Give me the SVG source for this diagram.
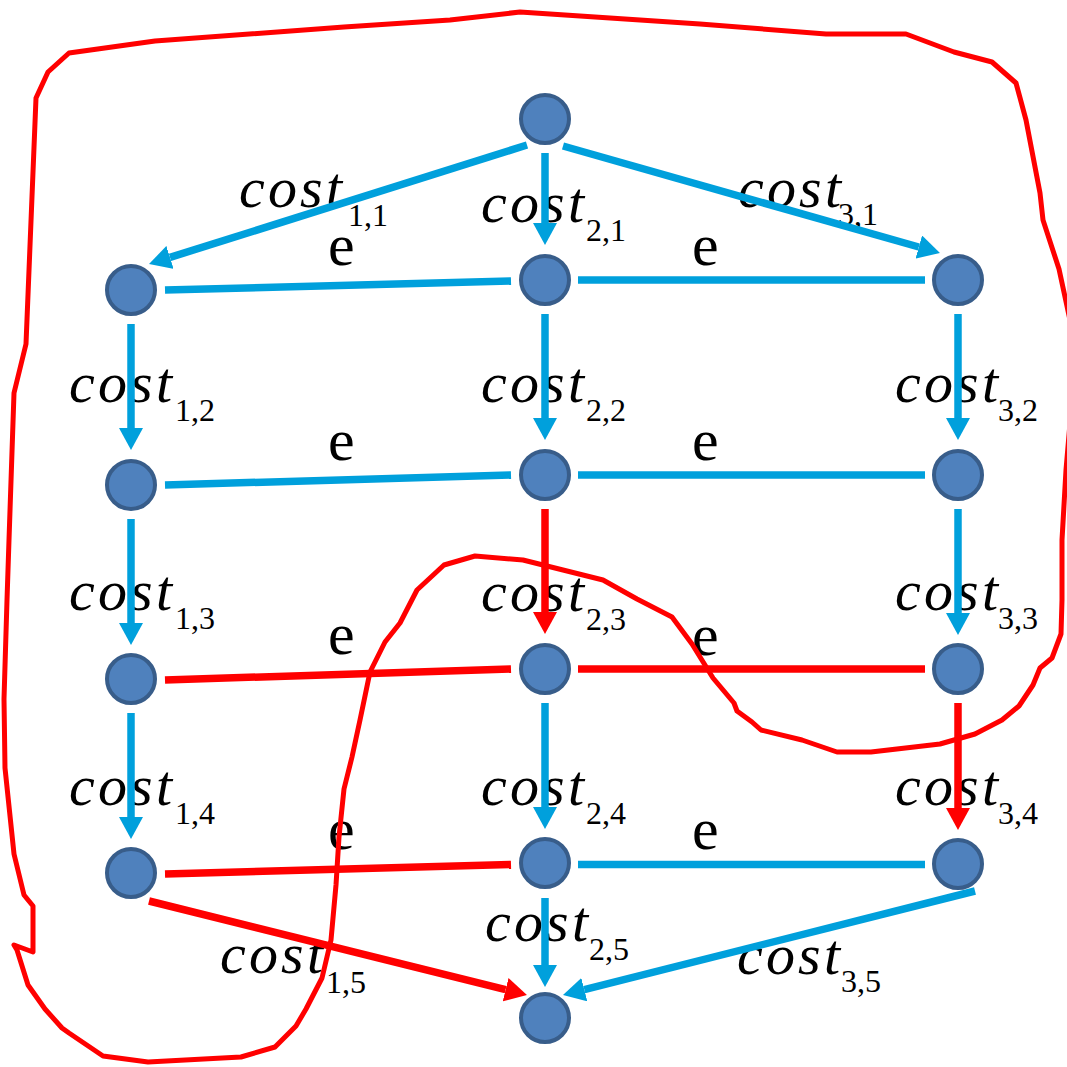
<svg xmlns="http://www.w3.org/2000/svg" width="1067" height="1067" viewBox="0 0 1067 1067">
<style>
.n{fill:#4F81BD;stroke:#385D8A;stroke-width:4}
.b{stroke:#00A0DC;stroke-width:7.5;fill:none}
.r{stroke:#FF0000;stroke-width:7.5;fill:none}
.ab{marker-end:url(#ab)}
.ar{marker-end:url(#ar)}
.hand{stroke:#FF0000;stroke-width:5;fill:none;stroke-linejoin:round;stroke-linecap:round}
</style>
<defs>
<marker id="ab" viewBox="0 -12 22 24" refX="0" refY="0" markerWidth="22" markerHeight="24" markerUnits="userSpaceOnUse" orient="auto"><path d="M0,-12 L22,0 L0,12 z" fill="#00A0DC"/></marker>
<marker id="ar" viewBox="0 -12 22 24" refX="0" refY="0" markerWidth="22" markerHeight="24" markerUnits="userSpaceOnUse" orient="auto"><path d="M0,-12 L22,0 L0,12 z" fill="#FF0000"/></marker>
</defs>
<rect width="1067" height="1067" fill="#FFFFFF"/>

<g id="labels" font-family="Liberation Serif" fill="#000">
<g id="cost-labels" font-style="italic" font-size="58">
<text x="239" y="207" textLength="103" lengthAdjust="spacing">cost</text>
<text x="481" y="222" textLength="103" lengthAdjust="spacing">cost</text>
<text x="738" y="207" textLength="103" lengthAdjust="spacing">cost</text>
<text x="69" y="402" textLength="103" lengthAdjust="spacing">cost</text>
<text x="481" y="402" textLength="103" lengthAdjust="spacing">cost</text>
<text x="895" y="402" textLength="103" lengthAdjust="spacing">cost</text>
<text x="69" y="610" textLength="103" lengthAdjust="spacing">cost</text>
<text x="481" y="611" textLength="103" lengthAdjust="spacing">cost</text>
<text x="895" y="610" textLength="103" lengthAdjust="spacing">cost</text>
<text x="69" y="805" textLength="103" lengthAdjust="spacing">cost</text>
<text x="481" y="805" textLength="103" lengthAdjust="spacing">cost</text>
<text x="895" y="805" textLength="103" lengthAdjust="spacing">cost</text>
<text x="220" y="973" textLength="103" lengthAdjust="spacing">cost</text>
<text x="485" y="941" textLength="103" lengthAdjust="spacing">cost</text>
<text x="737" y="974" textLength="103" lengthAdjust="spacing">cost</text>
</g>
<g id="subscripts" font-size="32">
<text x="348" y="226">1,1</text>
<text x="586" y="241">2,1</text>
<text x="838" y="225">3,1</text>
<text x="175" y="421">1,2</text>
<text x="586" y="421">2,2</text>
<text x="998" y="421">3,2</text>
<text x="175" y="629">1,3</text>
<text x="586" y="630">2,3</text>
<text x="998" y="629">3,3</text>
<text x="175" y="824">1,4</text>
<text x="586" y="824">2,4</text>
<text x="998" y="824">3,4</text>
<text x="326" y="993">1,5</text>
<text x="589" y="960">2,5</text>
<text x="841" y="992">3,5</text>
</g>
<g id="e-labels" font-size="60">
<text x="328" y="265">e</text><text x="692" y="265">e</text>
<text x="328" y="460">e</text><text x="692" y="460">e</text>
<text x="328" y="654">e</text><text x="692" y="655">e</text>
<text x="328" y="849">e</text><text x="692" y="849">e</text>
</g>
</g>

<g id="connectors">
<line class="b ab" x1="527" y1="145" x2="170" y2="257.4"/>
<line class="b ab" x1="545" y1="153" x2="545" y2="223"/>
<line class="b ab" x1="563" y1="146" x2="918.8" y2="247"/>
<line class="b" x1="165" y1="290" x2="511" y2="281"/>
<line class="b" x1="578" y1="280" x2="925" y2="280"/>
<line class="b ab" x1="131" y1="324" x2="131" y2="428"/>
<line class="b ab" x1="545" y1="314" x2="545" y2="418"/>
<line class="b ab" x1="958" y1="314" x2="958" y2="418"/>
<line class="b" x1="165" y1="485" x2="511" y2="475"/>
<line class="b" x1="578" y1="475" x2="925" y2="475"/>
<line class="b ab" x1="131" y1="519" x2="131" y2="623"/>
<line class="r ar" x1="545" y1="509" x2="545" y2="612"/>
<line class="b ab" x1="958" y1="509" x2="958" y2="613"/>
<line class="r" x1="165" y1="680" x2="511" y2="669"/>
<line class="r" x1="578" y1="669" x2="925" y2="669"/>
<line class="b ab" x1="131" y1="713" x2="131" y2="817"/>
<line class="b ab" x1="545" y1="703" x2="545" y2="807"/>
<line class="r ar" x1="958" y1="703" x2="958" y2="808"/>
<line class="r" x1="165" y1="874" x2="511" y2="864.5"/>
<line class="b" x1="578" y1="864.5" x2="925" y2="864.5"/>
<line class="r ar" x1="149" y1="901" x2="505.6" y2="989.7"/>
<line class="b ab" x1="545" y1="898" x2="545" y2="965"/>
<line class="b ab" x1="975" y1="891" x2="584.3" y2="989.6"/>
</g>

<g id="n0"><circle class="n" cx="545" cy="119" r="24"/></g>
<g id="a1"><circle class="n" cx="131" cy="290" r="24"/></g>
<g id="b1"><circle class="n" cx="545" cy="280" r="24"/></g>
<g id="c1"><circle class="n" cx="958" cy="280" r="24"/></g>
<g id="a2"><circle class="n" cx="131" cy="485" r="24"/></g>
<g id="b2"><circle class="n" cx="545" cy="475" r="24"/></g>
<g id="c2"><circle class="n" cx="958" cy="475" r="24"/></g>
<g id="a3"><circle class="n" cx="131" cy="679" r="24"/></g>
<g id="b3"><circle class="n" cx="545" cy="669" r="24"/></g>
<g id="c3"><circle class="n" cx="958" cy="669" r="24"/></g>
<g id="a4"><circle class="n" cx="131" cy="873" r="24"/></g>
<g id="b4"><circle class="n" cx="545" cy="863" r="24"/></g>
<g id="c4"><circle class="n" cx="958" cy="864" r="24"/></g>
<g id="n5"><circle class="n" cx="545" cy="1018" r="24"/></g>

<path id="hand-loop" class="hand" d="M565,15 L700,24 L826,34 L906,34 L954,52 L992,62 L1016,83 L1026,120 L1040,193 L1043,220 L1059,269 L1070,320 L1072,400 L1066,470 L1062,540 L1062,600 L1061,634 L1052,658 L1040,668 L1033,685 L1019,706 L1002,720 L975,734 L940,744 L871,752 L837,752 L802,740 L761,730 L752,722 L737,711 L734,703 L713,678 L692,644 L672,617 L637,599 L603,580 L563,570 L523,560 L475,556 L444,565 L417,590 L400,623 L385,642 L370,672 L360,720 L352,757 L344,789 L339,837 L336,885 L331,940 L322,978 L306,1009 L296,1026 L275,1047 L241,1057 L148,1062 L103,1056 L69,1033 L62,1028 L45,1009 L28,985 L17,950 L14,945 L33,952 L33,906 L24,895 L14,854 L5,768 L4,699 L7,600 L9,540 L14,393 L26,344 L33,172 L36,98 L48,72 L69,53 L155,41 L344,27 L450,20 L520,12 L565,15"/>
</svg>
